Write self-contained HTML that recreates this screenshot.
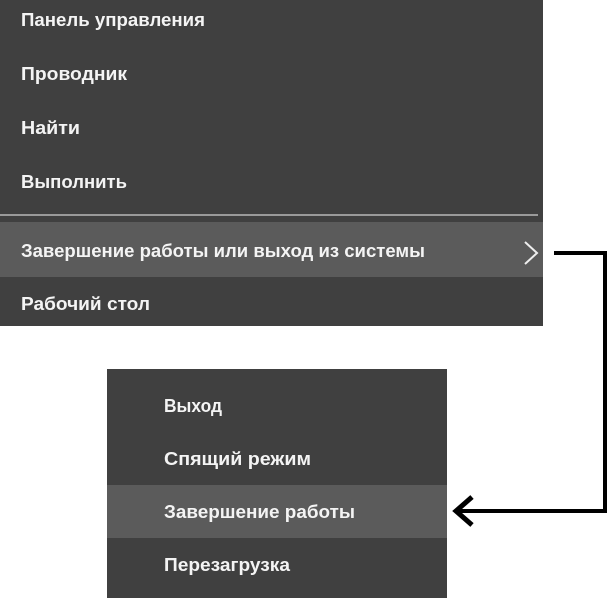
<!DOCTYPE html>
<html><head><meta charset="utf-8"><style>
html,body{margin:0;padding:0;background:#fff;}
svg{display:block;}
text{font-family:"Liberation Sans","DejaVu Sans",sans-serif;font-size:18px;font-weight:bold;fill:#f4f4f4;}
</style></head><body>
<svg width="610" height="600" viewBox="0 0 610 600" xmlns="http://www.w3.org/2000/svg">
<rect x="0" y="0" width="543" height="326" fill="#404040"/>
<rect x="0" y="214" width="538" height="2" fill="#9a9a9a"/>
<rect x="0" y="222" width="543" height="55" fill="#5b5b5b"/>
<text x="21" y="26" textLength="184" lengthAdjust="spacingAndGlyphs">Панель управления</text>
<text x="21" y="80" textLength="106" lengthAdjust="spacingAndGlyphs">Проводник</text>
<text x="21" y="134" textLength="59" lengthAdjust="spacingAndGlyphs">Найти</text>
<text x="21" y="188" textLength="106" lengthAdjust="spacingAndGlyphs">Выполнить</text>
<text x="21" y="257" textLength="404" lengthAdjust="spacingAndGlyphs">Завершение работы или выход из системы</text>
<text x="21" y="310" textLength="129" lengthAdjust="spacingAndGlyphs">Рабочий стол</text>
<polyline points="525,242 537,253 525,264" fill="none" stroke="#eee" stroke-width="2"/>
<rect x="107" y="369" width="340" height="229" fill="#404040"/>
<rect x="107" y="485" width="340" height="53" fill="#5b5b5b"/>
<text x="164" y="412" textLength="58" lengthAdjust="spacingAndGlyphs">Выход</text>
<text x="164" y="465" textLength="147" lengthAdjust="spacingAndGlyphs">Спящий режим</text>
<text x="164" y="518" textLength="191" lengthAdjust="spacingAndGlyphs">Завершение работы</text>
<text x="164" y="571" textLength="126" lengthAdjust="spacingAndGlyphs">Перезагрузка</text>
<polyline points="554,253 605,253 605,511 456,511" fill="none" stroke="#000" stroke-width="4"/>
<polyline points="472,497 456,511 472,525" fill="none" stroke="#000" stroke-width="5"/>
</svg>
</body></html>
